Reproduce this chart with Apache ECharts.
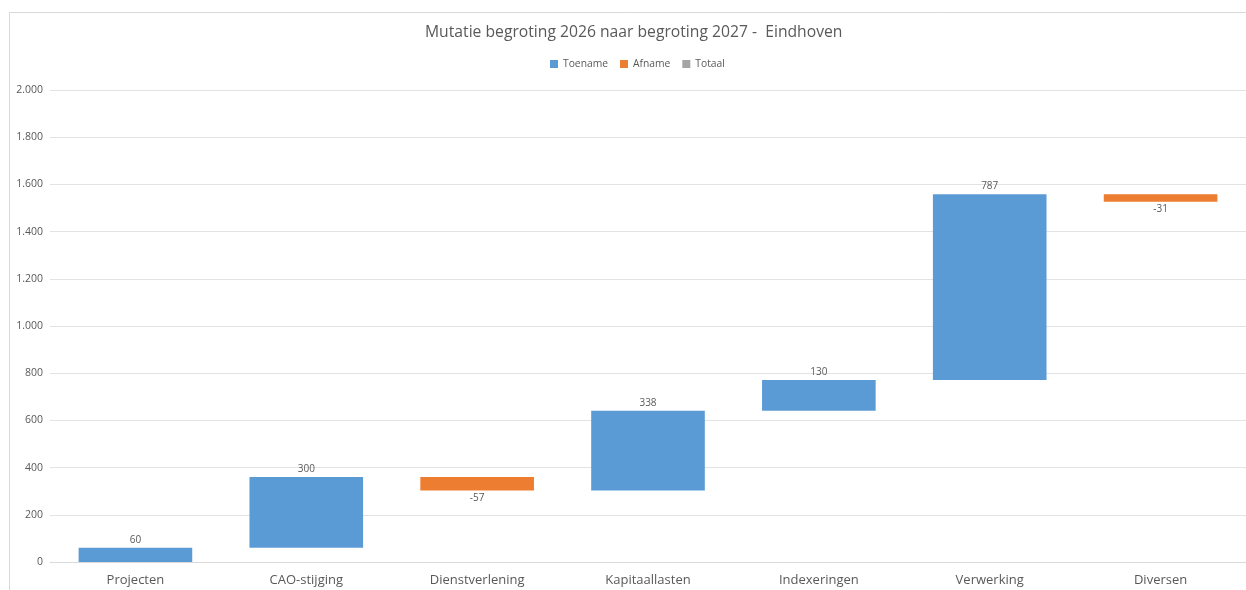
<!DOCTYPE html>
<html>
<head>
<meta charset="utf-8">
<script src="https://cdn.jsdelivr.net/npm/echarts@6/dist/echarts.min.js"></script>
<style>html,body{margin:0;padding:0;background:#fff}#c{width:1246px;height:590px}</style>
</head>
<body>
<div id="c"></div>
<script>
const categories = ['Projecten','CAO-stijging','Dienstverlening','Kapitaallasten','Indexeringen','Verwerking','Diversen'];
const changes = [60, 300, -57, 338, 130, 787, -31];
const yTicks = [0, 200, 400, 600, 800, 1000, 1200, 1400, 1600, 1800, 2000];

const base = [], up = [], down = [];
let cum = 0;
changes.forEach(v => {
  if (v >= 0) { base.push(cum); up.push(v); down.push('-'); cum += v; }
  else { cum += v; base.push(cum); up.push('-'); down.push(-v); }
});

const font = 'Open Sans';
const chart = echarts.init(document.getElementById('c'));
chart.setOption({
  animation: false,
  textStyle: { fontFamily: font },
  graphic: [{ type: 'rect', shape: { x: 9.5, y: 12.5, width: 1260, height: 600 }, style: { fill: 'none', stroke: '#d9d9d9', lineWidth: 1 }, silent: true }],
  title: { text: 'Mutatie begroting 2026 naar begroting 2027 -  Eindhoven', left: 420, top: 20, textStyle: { fontFamily: font, fontSize: 15.7, fontWeight: 'normal', color: '#595959' } },
  legend: { top: 54, left: 545, icon: 'rect', itemWidth: 8, itemHeight: 8, itemGap: 12, textStyle: { fontFamily: font, fontSize: 10.3, color: '#595959' }, data: ['Toename','Afname','Totaal'] },
  grid: { left: 50, top: 90, width: 1199, bottom: 28 },
  xAxis: { type: 'category', data: categories, axisLine: { lineStyle: { color: '#d9d9d9' } }, axisTick: { show: false }, axisLabel: { fontFamily: font, fontSize: 13, color: '#595959', margin: 12 } },
  yAxis: { type: 'value', min: yTicks[0], max: yTicks[yTicks.length-1], interval: 200, axisLine: { show: false }, axisTick: { show: false }, splitLine: { lineStyle: { color: '#e3e3e3' } },
    axisLabel: { fontFamily: font, fontSize: 10.5, color: '#595959', margin: 7, formatter: v => v.toLocaleString('de-DE') } },
  series: [
    { name: 'base', type: 'bar', stack: 'w', data: base, itemStyle: { color: 'transparent' }, silent: true, barWidth: '66.5%' },
    { name: 'Toename', type: 'bar', stack: 'w', data: up, itemStyle: { color: '#5b9bd5' }, label: { show: true, position: 'top', distance: 3, fontFamily: font, fontSize: 10, color: '#595959' } },
    { name: 'Afname', type: 'bar', stack: 'w', data: down, itemStyle: { color: '#ed7d31' }, label: { show: true, position: 'bottom', distance: 3, fontFamily: font, fontSize: 10, color: '#595959', formatter: p => '-' + p.value } },
    { name: 'Totaal', type: 'bar', stack: 'w', data: categories.map(() => '-'), itemStyle: { color: '#a5a5a5' } }
  ]
});
</script>
</body>
</html>
